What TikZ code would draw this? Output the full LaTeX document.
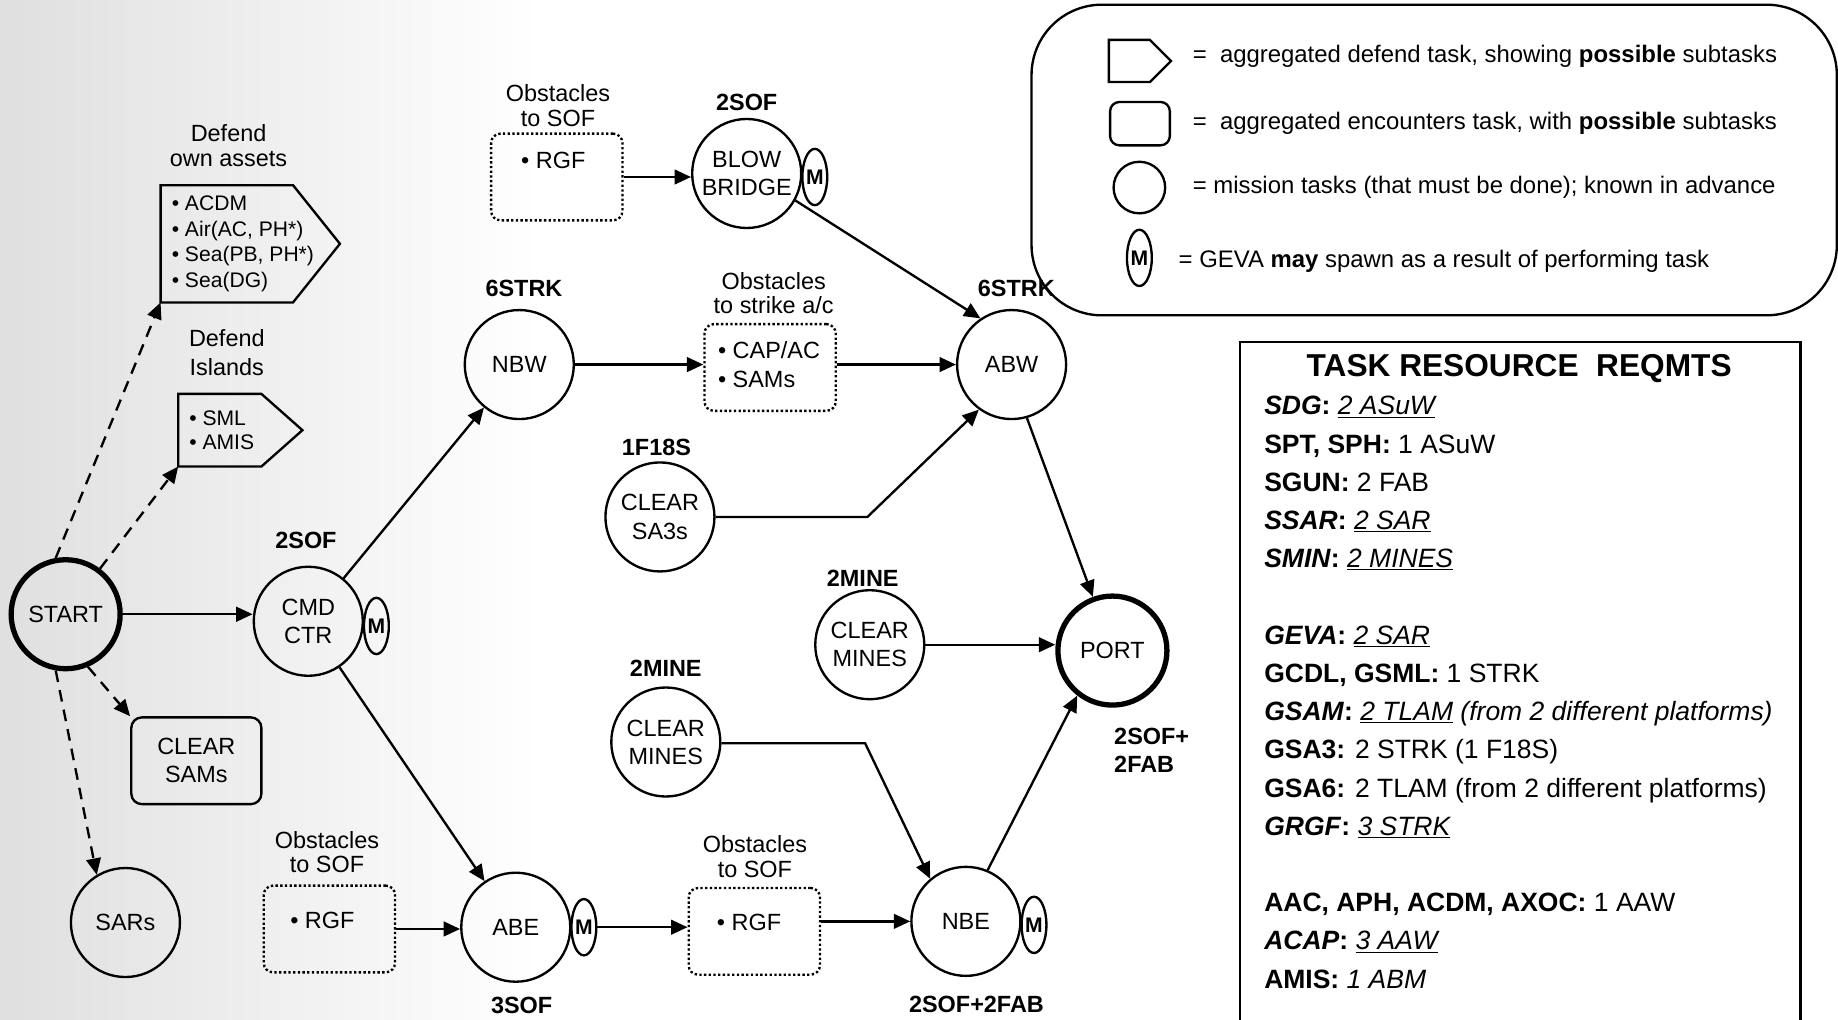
\documentclass[tikz,border=0pt]{standalone}
\usepackage{fontspec}
\setmainfont{Liberation Sans}
\usetikzlibrary{arrows.meta,shapes.geometric}
\begin{document}
\begin{tikzpicture}[x=1pt,y=-1pt,
  task/.style={circle, draw, line width=2pt, minimum size=93pt, inner sep=0pt, align=center, font=\fontsize{20}{24}\selectfont},
  endtask/.style={task, line width=4.5pt},
  mm/.style={ellipse, draw, line width=2pt, minimum width=19pt, minimum height=48pt, inner sep=0pt, font=\bfseries\fontsize{18}{18}\selectfont},
  res/.style={align=center, font=\bfseries\fontsize{20}{24}\selectfont},
  lab/.style={align=center, font=\fontsize{20}{21}\selectfont},
  item/.style={align=left, font=\fontsize{20}{25}\selectfont},
  obsbox/.style={draw, line width=2pt, dash pattern=on 2pt off 2pt, rounded corners=8pt, minimum width=112pt, minimum height=74pt},
  arr/.style={line width=2pt, -{Triangle[length=14pt,width=12.5pt]}},
  darr/.style={arr, dash pattern=on 10pt off 7pt},
  legtxt/.style={anchor=west, font=\fontsize{20.4}{24}\selectfont},
  tline/.style={anchor=base west, font=\fontsize{22.6}{26}\selectfont},
]
\useasboundingbox (0,0) rectangle (1568,870);
\clip (0,0) rectangle (1568,870);
\shade[left color=gray!25, right color=white] (0,0) rectangle (460,870);

% ---------- defend pentagons ----------
\coordinate (p1nw) at (137,158); \coordinate (p1ne) at (250,158);
\coordinate (p1e) at (290,208); \coordinate (p1se) at (250,258);
\coordinate (p1sw) at (137,258);
\draw[line width=2pt] (p1nw) -- (p1ne) -- (p1e) -- (p1se) -- (p1sw) -- cycle;
\node[lab] (p1lab) at (195,124) {Defend\\own assets};
\node[anchor=west, align=left, font=\fontsize{18}{22}\selectfont] (p1txt) at (143,208)
  {• ACDM\\• Air(AC, PH*)\\• Sea(PB, PH*)\\• Sea(DG)};

\coordinate (p2nw) at (152,336); \coordinate (p2ne) at (223,336);
\coordinate (p2e) at (258,367); \coordinate (p2se) at (223,398);
\coordinate (p2sw) at (152,398);
\draw[line width=2pt] (p2nw) -- (p2ne) -- (p2e) -- (p2se) -- (p2sw) -- cycle;
\node[lab, font=\fontsize{20}{25}\selectfont] (p2lab) at (193.5,301) {Defend\\Islands};
\node[anchor=west, align=left, font=\fontsize{18}{21}\selectfont] (p2txt) at (158,367)
  {• SML\\• AMIS};

% ---------- mission tasks ----------
\node[endtask] (start) at (56,524) {START};
\node[task] (cmd) at (263,530) {CMD\\CTR};
\node[mm, anchor=west] (cmdm) at ([xshift=-1pt,yshift=-4pt]cmd.east) {M};
\node[res] (cmdr) at (261,461) {2SOF};

\node[task] (nbw) at (443,311) {NBW};
\node[res] (nbwr) at (447,246) {6STRK};

\node[task] (abe) at (440,791) {ABE};
\node[mm, anchor=west] (abem) at ([xshift=-1pt]abe.east) {M};
\node[res] (aber) at (445,858) {3SOF};

\node[task] (sars) at (107,787) {SARs};
\node[draw, line width=2pt, rounded corners=9pt, minimum width=111pt, minimum height=74pt,
      align=center, font=\fontsize{20}{24}\selectfont] (sams) at (167.5,649) {CLEAR\\SAMs};

\node[task] (bb) at (637,148) {BLOW\\BRIDGE};
\node[mm, anchor=west] (bbm) at ([xshift=-1pt,yshift=-3pt]bb.east) {M};
\node[res] (bbr) at (637,87) {2SOF};

\node[task] (sa3) at (563,441) {CLEAR\\SA3s};
\node[res] (sa3r) at (560,382) {1F18S};

\node[task] (abw) at (863,311) {ABW};
\node[res] (abwr) at (867,246) {6STRK};

\node[task] (cm1) at (742,550) {CLEAR\\MINES};
\node[res] (cm1r) at (736,493) {2MINE};

\node[task] (cm2) at (568,633) {CLEAR\\MINES};
\node[res] (cm2r) at (568,570) {2MINE};

\node[task] (nbe) at (824,786) {NBE};
\node[mm, anchor=west] (nbem) at ([xshift=-1pt,yshift=-3pt]nbe.east) {M};
\node[res] (nber) at (833,857) {2SOF+2FAB};

\node[endtask] (port) at (949,555) {PORT};
\node[res, align=left, anchor=west] (portr) at (947,640) {2SOF+\\2FAB};

% ---------- obstacle boxes ----------
\node[obsbox] (o1) at (475,151) {};
\node[lab] (o1lab) at (476,90) {Obstacles\\to SOF};
\node[lab] (o1txt) at (472,137) {• RGF};

\node[obsbox] (o2) at (281,792.5) {};
\node[lab] (o2lab) at (279,727) {Obstacles\\to SOF};
\node[lab] (o2txt) at (275,785) {• RGF};

\node[obsbox] (o3) at (657,313.5) {};
\node[lab] (o3lab) at (660,250) {Obstacles\\to strike a/c};
\node[item, anchor=west] (o3txt) at (609,311) {• CAP/AC\\• SAMs};

\node[obsbox] (o4) at (643.5,794.5) {};
\node[lab] (o4lab) at (644,731) {Obstacles\\to SOF};
\node[lab] (o4txt) at (639,787) {• RGF};

% ---------- connectors ----------
\draw[arr] (start.east) -- (start.east -| cmd.west);
\draw[arr] (cmd) -- (nbw);
\draw[arr] (cmd) -- (abe);
\draw[arr] (o2.east) -- (o2.east -| abe.west);
\draw[arr] (abem.east) -- (abem.east -| o4.west);
\draw[arr] (nbe.west -| o4.east) -- (nbe.west);
\coordinate (cm2k) at (738,634);
\draw[arr] (cm2.east |- cm2k) -- (cm2k) -- (nbe.130);
\draw[arr] (cm1.east) -- (cm1.east -| port.west);
\draw[arr] (nbe.67) -- (port.232);
\draw[arr] (abw.286) -- (port.110);
\draw[arr] (bb.331) -- (abw.124);
\draw[arr] (o1.east) -- (o1.east -| bb.west);
\draw[arr] (nbw.east) -- (nbw.east -| o3.west);
\draw[arr] (o3.east |- abw.west) -- (abw.west);
\coordinate (sa3k) at (740,441);
\draw[arr] (sa3.east) -- (sa3k) -- (abw.234);

\draw[darr] (start.100) -- (p1sw);
\draw[darr] (start.53) -- (p2sw);
\draw[darr] (start.293) -- (sams.north west);
\draw[darr] (start.260) -- (sars.121);

% ---------- legend ----------
\node[draw, line width=2pt, rounded corners=60pt, minimum width=687pt, minimum height=265pt] (legend) at (1223.5,136.5) {};
\coordinate (lp1) at (946,34); \coordinate (lp2) at (981,34); \coordinate (lp3) at (999,52);
\coordinate (lp4) at (981,70); \coordinate (lp5) at (946,70);
\draw[line width=2pt] (lp1) -- (lp2) -- (lp3) -- (lp4) -- (lp5) -- cycle;
\node[legtxt] (lt1) at (1014,48) {=\ \ aggregated defend task, showing \textbf{possible} subtasks};
\node[draw, line width=2pt, rounded corners=8pt, minimum width=51pt, minimum height=37pt] (lgr) at (972.5,105.5) {};
\node[legtxt] (lt2) at (1014,105) {=\ \ aggregated encounters task, with \textbf{possible} subtasks};
\node[circle, draw, line width=2pt, minimum size=44pt, inner sep=0pt] (lgc) at (972,160) {};
\node[legtxt] (lt3) at (1014,160) {= mission tasks (that must be done); known in advance};
\node[mm] (lgm) at (972,220) {M};
\node[legtxt] (lt4) at (1002,223) {= GEVA \textbf{may} spawn as a result of performing task};

% ---------- task resource requirements ----------
\node[draw, line width=2pt, minimum width=478pt, minimum height=620pt, anchor=north west] (trbox) at (1057,291) {};
\node[anchor=base, font=\bfseries\fontsize{27}{30}\selectfont] (trtitle) at (1296,321) {TASK RESOURCE\ \ REQMTS};
\node[tline] (t1) at (1075,354) {\textbf{\textit{SDG}}\textbf{:} \textit{\underline{2 ASuW}}};
\node[tline] (t2) at (1075,386.6) {\textbf{SPT, SPH:} 1 ASuW};
\node[tline] (t3) at (1075,419) {\textbf{SGUN:} 2 FAB};
\node[tline] (t4) at (1075,451.8) {\textbf{\textit{SSAR}}\textbf{:} \textit{\underline{2 SAR}}};
\node[tline] (t5) at (1075,484.4) {\textbf{\textit{SMIN}}\textbf{:} \textit{\underline{2 MINES}}};
\node[tline] (t6) at (1075,549.6) {\textbf{\textit{GEVA}}\textbf{:} \textit{\underline{2 SAR}}};
\node[tline] (t7) at (1075,582) {\textbf{GCDL, GSML:} 1 STRK};
\node[tline] (t8) at (1075,614.8) {\textbf{\textit{GSAM}}\textbf{:} \textit{\underline{2 TLAM} (from 2 different platforms)}};
\node[tline] (t9) at (1075,647.4) {\textbf{GSA3:} 2 STRK (1 F18S)};
\node[tline] (t10) at (1075,680) {\textbf{GSA6:} 2 TLAM (from 2 different platforms)};
\node[tline] (t11) at (1075,712.6) {\textbf{\textit{GRGF}}\textbf{:} \textit{\underline{3 STRK}}};
\node[tline] (t12) at (1075,777.8) {\textbf{AAC, APH, ACDM, AXOC:} 1 AAW};
\node[tline] (t13) at (1075,810.4) {\textbf{\textit{ACAP}}\textbf{:} \textit{\underline{3 AAW}}};
\node[tline] (t14) at (1075,843) {\textbf{AMIS:} \textit{1 ABM}};
\end{tikzpicture}
\end{document}
